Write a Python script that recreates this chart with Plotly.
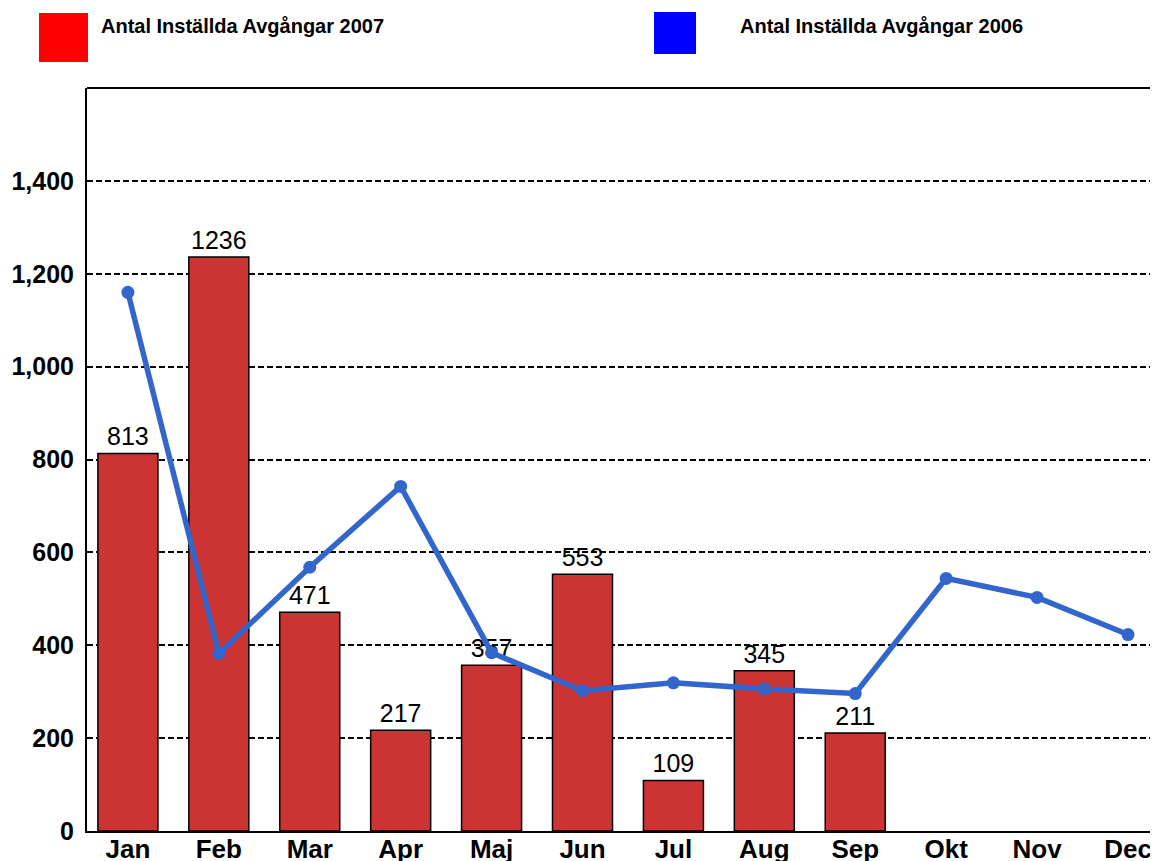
import plotly.graph_objects as go

months = ["Jan", "Feb", "Mar", "Apr", "Maj", "Jun", "Jul", "Aug", "Sep", "Okt", "Nov", "Dec"]
values_2007 = [813, 1236, 471, 217, 357, 553, 109, 345, 211, None, None, None]
values_2006 = [1160, 382, 568, 742, 384, 302, 319, 306, 296, 544, 503, 423]
y_ticks = [0, 200, 400, 600, 800, 1000, 1200, 1400]

idx = list(range(len(months)))

# plot area in page pixels (page has 8px body offset)
PL, PR, PT, PB = 87, 1158, 88, 831


def px(x):
    return (x - PL) / (PR - PL)


def py(y):
    return (PB - y) / (PB - PT)


fig = go.Figure()
fig.add_trace(go.Bar(
    x=idx, y=values_2007,
    width=0.66,
    marker=dict(color="#CC3333", line=dict(color="black", width=1.5)),
    text=[str(v) if v is not None else "" for v in values_2007],
    textposition="outside",
    textfont=dict(family="Arial", size=25, color="black"),
    cliponaxis=False,
    name="Antal Inställda Avgångar 2007",
))
fig.add_trace(go.Scatter(
    x=idx, y=values_2006,
    mode="lines+markers",
    line=dict(color="#3366CC", width=5.5),
    marker=dict(color="#3366CC", size=13),
    name="Antal Inställda Avgångar 2006",
))

fig.update_layout(
    width=1158, height=861,
    margin=dict(l=PL - 8, r=8, t=PT - 8, b=861 + 8 - PB),
    paper_bgcolor="white", plot_bgcolor="white",
    showlegend=False,
    xaxis=dict(
        range=[-0.45, 11.33],
        tickmode="array", tickvals=idx, ticktext=months,
        tickfont=dict(family="Arial", size=26, color="black", weight="bold"),
        showgrid=False, showline=True, linecolor="black", linewidth=2,
        ticks="", ticklen=0, zeroline=False, automargin=False,
        ticklabelstandoff=-6,
    ),
    yaxis=dict(
        range=[0, 1600],
        tickmode="array", tickvals=y_ticks, tickformat=",",
        tickfont=dict(family="Arial", size=25, color="black", weight="bold"),
        showgrid=True, gridcolor="black", gridwidth=1.8, griddash="6px,3px",
        showline=True, linecolor="black", linewidth=2,
        ticks="", zeroline=False, ticklabelstandoff=6, automargin=False,
    ),
    shapes=[
        dict(type="line", xref="paper", yref="paper", x0=0, x1=1, y0=1, y1=1,
             line=dict(color="black", width=2)),
        dict(type="rect", xref="paper", yref="paper",
             x0=px(39), x1=px(88), y0=py(62), y1=py(13),
             fillcolor="#FF0000", line=dict(width=0)),
        dict(type="rect", xref="paper", yref="paper",
             x0=px(654), x1=px(696), y0=py(54), y1=py(12),
             fillcolor="#0000FF", line=dict(width=0)),
    ],
    annotations=[
        dict(text="<b>Antal Inställda Avgångar 2007</b>", xref="paper", yref="paper",
             x=px(99), y=py(26), xanchor="left", yanchor="middle", showarrow=False,
             font=dict(family="Arial", size=20, color="black")),
        dict(text="<b>Antal Inställda Avgångar 2006</b>", xref="paper", yref="paper",
             x=px(738), y=py(26), xanchor="left", yanchor="middle", showarrow=False,
             font=dict(family="Arial", size=20, color="black")),
    ],
)

fig.write_html("out.html")
